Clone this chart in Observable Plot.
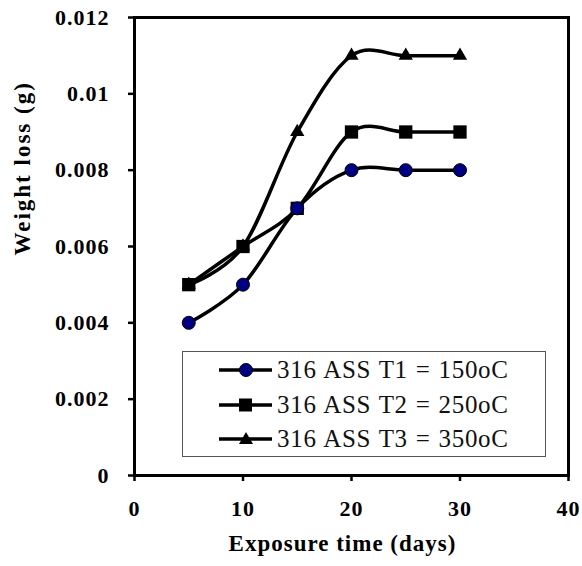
<!DOCTYPE html>
<html>
<head>
<meta charset="utf-8">
<script src="https://cdn.jsdelivr.net/npm/d3@7"></script>
<script src="https://cdn.jsdelivr.net/npm/@observablehq/plot@0.6"></script>
<style>
  body { margin: 0; background: #fff; }
  #wrap { position: relative; width: 582px; height: 566px; font-family: "Liberation Serif", "Times New Roman", serif; }
  #legend { position: absolute; left: 182px; top: 351px; width: 364px; height: 106px; border: 1.5px solid #555; background: #fff; box-sizing: border-box; }
  .row { position: absolute; left: 35px; height: 30px; display: flex; align-items: center; font-size: 25px; letter-spacing: 0.7px; word-spacing: 1px; color: #111; white-space: nowrap; }
  .row svg { display: block; margin-right: 4px; }
</style>
</head>
<body>
<div id="wrap"></div>
<script>
const days = [5, 10, 15, 20, 25, 30];
const t1 = [0.004, 0.005, 0.007, 0.008, 0.008, 0.008];
const t2 = [0.005, 0.006, 0.007, 0.009, 0.009, 0.009];
const t3 = [0.005, 0.006, 0.009, 0.011, 0.011, 0.011];
const seriesNames = ["316 ASS T1 = 150oC", "316 ASS T2 = 250oC", "316 ASS T3 = 350oC"];
const xTicks = [0, 10, 20, 30, 40];
const yTicks = [0, 0.002, 0.004, 0.006, 0.008, 0.01, 0.012];

const symbols = ["circle", "square", "triangle"];
const fills = ["#000080", "#000", "#000"];
const sizes = [6.5, 7.5, 5.3];
const allSeries = [t1, t2, t3];
const rows = allSeries.flatMap((vals, i) => days.map((d, j) => ({s: i, x: d, y: vals[j]})));

const font = '"Liberation Serif", "Times New Roman", serif';
const marks = [];
for (let i = 2; i >= 0; i--) {
  const data = rows.filter(r => r.s === i);
  marks.push(Plot.line(data, {x: "x", y: "y", curve: "cardinal", stroke: "#000", strokeWidth: 3.5}));
}
for (let i = 2; i >= 0; i--) {
  const data = rows.filter(r => r.s === i);
  marks.push(Plot.dot(data, {x: "x", y: "y", symbol: () => symbols[i], r: sizes[i], fill: fills[i], stroke: "#000", strokeWidth: i === 0 ? 1 : 0}));
}

const chart = Plot.plot({
  width: 582,
  height: 566,
  marginLeft: 134,
  marginRight: 14,
  marginTop: 17,
  marginBottom: 91,
  style: {fontFamily: font, background: "#fff", overflow: "visible"},
  symbol: {type: "identity"},
  x: {domain: [0, 40]},
  y: {domain: [0, 0.012]},
  marks: [
    ...marks,
    Plot.frame({stroke: "#000", strokeWidth: 3}),
    Plot.axisX({ticks: xTicks, tickSize: 6, tickPadding: 19, tickFormat: d => String(d), fontSize: 22, fontWeight: "bold", label: null, strokeWidth: 2.5}),
    Plot.axisY({ticks: yTicks, tickSize: 6, tickPadding: 19, tickFormat: d => String(+d.toFixed(3)), fontSize: 22, fontWeight: "bold", label: null, strokeWidth: 2.5}),
    Plot.text(["Exposure time (days)"], {frameAnchor: "bottom", dy: 75, dx: -9, fontSize: 23, fontWeight: "bold", text: d => d}),
    Plot.text(["Weight loss (g)"], {frameAnchor: "left", dx: -112, dy: 9, rotate: -90, fontSize: 23, fontWeight: "bold", text: d => d})
  ]
});
const wrap = document.getElementById("wrap");
wrap.appendChild(chart);
chart.querySelectorAll("text").forEach(t => {
  const txt = t.textContent;
  if (txt === "Exposure time (days)") t.setAttribute("letter-spacing", "1");
  if (txt === "Weight loss (g)") t.setAttribute("letter-spacing", "2");
});
chart.querySelectorAll("g[aria-label='y-axis tick label'] text, g[aria-label='x-axis tick label'] text").forEach(t => t.setAttribute("letter-spacing", "1"));

const legend = document.createElement("div");
legend.id = "legend";
const markerSvgs = [
  '<circle cx="28" cy="10" r="6.5" fill="#000080" stroke="#000" stroke-width="1"/>',
  '<rect x="21" y="3.5" width="13" height="13" fill="#000"/>',
  '<path d="M28,3 L35,15 L21,15 Z" fill="#000"/>'
];
seriesNames.forEach((name, i) => {
  const row = document.createElement("div");
  row.className = "row";
  row.style.top = (3 + i * 34.5) + "px";
  row.innerHTML = `<svg width="55" height="20"><line x1="1" y1="10" x2="54" y2="10" stroke="#000" stroke-width="3.5"/>${markerSvgs[i]}</svg><span>${name}</span>`;
  legend.appendChild(row);
});
wrap.appendChild(legend);
</script>
</body>
</html>
